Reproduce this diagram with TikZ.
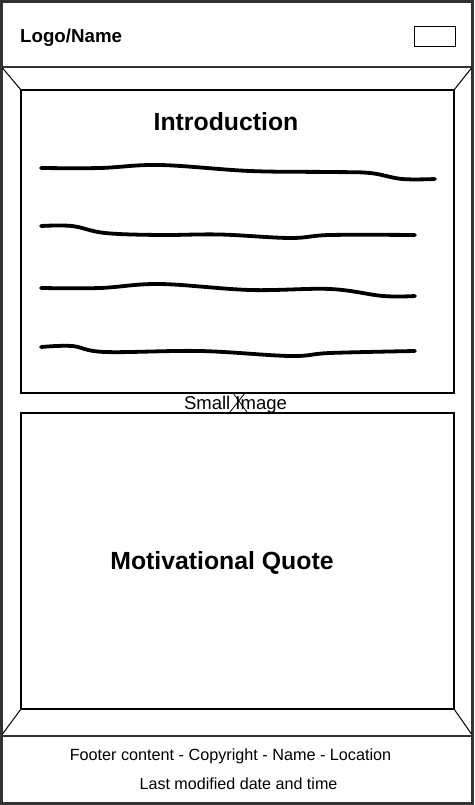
\documentclass[tikz,border=0pt]{standalone}
\usepackage{fontspec}
\setmainfont{Liberation Sans}
\definecolor{frame}{HTML}{333333}
\begin{document}
\begin{tikzpicture}[x=1pt,y=-1pt,
  outer/.style={draw=frame,line width=2.5pt},
  thinbox/.style={draw=black,line width=1.1pt},
  bevel/.style={draw=black,line width=1pt},
  wave/.style={draw=black,line width=3.8pt,line cap=round,line join=round},
  txt/.style={inner sep=0pt,anchor=base},
  boldbig/.style={font=\fontsize{24.8}{28}\selectfont\bfseries}]
\useasboundingbox (0,0) rectangle (474,805);
\fill[white] (0,0) rectangle (474,805);
% body region
\draw[outer] (1.5,67) rectangle (472.5,736);
% header
\draw[outer] (1.5,1.5) rectangle (472.5,67);
\draw[thinbox,line width=1pt] (414,27) rectangle (455,47);
\node[txt,anchor=base west,font=\fontsize{18.7}{22}\selectfont\bfseries] (logo) at (20,43) {Logo/Name};
% footer
\draw[outer] (1.5,736) rectangle (472.5,803.5);
% inner boxes
\draw[thinbox] (21,90) rectangle (454,393);
\draw[thinbox] (21,413) rectangle (454,709);
\coordinate (b1) at (2.5,68);
\coordinate (b2) at (471.5,68);
\coordinate (b3) at (2.5,734);
\coordinate (b4) at (471.5,734);
\draw[bevel] (b1) -- (21,90);
\draw[bevel] (b2) -- (454,90);
\draw[bevel] (b3) -- (21,709);
\draw[bevel] (b4) -- (454,709);
% texts
\node[txt,boldbig] (intro) at (226,131) {Introduction};
\node[txt,boldbig] (quote) at (222,569) {Motivational Quote};
\node[txt,font=\fontsize{18.5}{21}\selectfont] (img) at (235.5,409) {Small Image};
\draw[black,line width=0.8pt] (230,412) -- (245,393);
\draw[black,line width=0.8pt] (233,393) -- (247,412);
\node[txt,font=\fontsize{16.2}{19}\selectfont] (f1) at (230.5,760.5) {Footer content - Copyright - Name - Location};
\node[txt,font=\fontsize{16.1}{19}\selectfont] (f2) at (238.5,789) {Last modified date and time};
% wavy lines
\draw[wave] plot[smooth,tension=0.6] coordinates {(41,168) (100,168) (160,165) (250,171) (330,172) (370,173) (402,179) (435,179)};
\draw[wave] plot[smooth,tension=0.6] coordinates {(41,226) (72,226) (105,233) (160,235) (220,234.5) (290,238) (330,235) (415,235)};
\draw[wave] plot[smooth,tension=0.6] coordinates {(41,288) (100,288) (160,284) (250,290) (330,289) (383,296) (415,296)};
\draw[wave] plot[smooth,tension=0.6] coordinates {(41,347) (72,346) (105,352) (200,351) (290,356) (330,353) (415,351)};
\end{tikzpicture}
\end{document}
